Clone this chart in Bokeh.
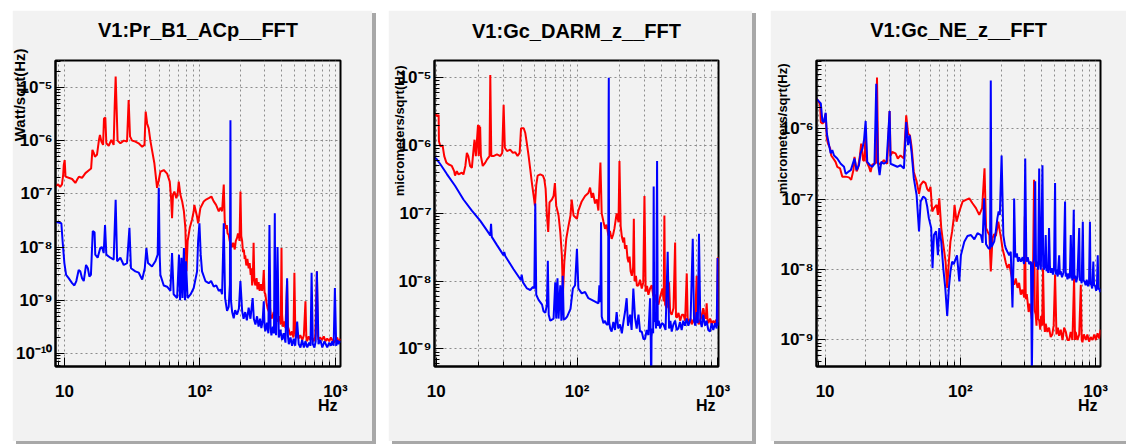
from bokeh.embed import file_html
from bokeh.layouts import column, row
from bokeh.models import (CustomJSTickFormatter, FixedTicker, GlobalInlineStyleSheet, LogAxis,
                          Spacer, Title)
from bokeh.plotting import figure
from bokeh.resources import INLINE

# ---------------------------------------------------------------------------
# Amplitude spectral densities, (frequency [Hz], amplitude) pairs
# ---------------------------------------------------------------------------
PR_RED = [
    (8.6, 1.4e-7), (9.0, 1.5e-7), (9.3, 1.35e-7), (9.6, 1.5e-7), (9.8, 2.3e-7), (9.9, 3.5e-7),
    (10.05, 4.3e-7), (10.2, 2.1e-7), (10.75, 2.0e-7), (11.4, 1.9e-7), (12.05, 1.6e-7), (12.5, 1.9e-7),
    (12.8, 2.1e-7), (13.5, 2.0e-7), (14.3, 2.45e-7), (15.1, 2.75e-7), (15.75, 3.0e-7), (16.1, 6.7e-7),
    (16.5, 5.8e-7), (16.8, 5.0e-7), (17.4, 5.4e-7), (18.0, 1.03e-6), (18.3, 1.28e-6), (18.75, 9.6e-7),
    (19.3, 8.3e-7), (19.6, 2.6e-6), (20.05, 2.7e-6), (20.4, 8.9e-7), (21.25, 8.0e-7), (22.2, 1.03e-6),
    (23.1, 8.3e-7), (23.5, 4.3e-6), (23.9, 1.6e-5), (24.3, 4.0e-6), (24.7, 1.0e-6), (25.9, 8.9e-7),
    (27.4, 1.0e-6), (29.0, 9.6e-7), (29.8, 5.8e-6), (30.5, 1.2e-6), (31.6, 1.0e-6), (33.4, 9.6e-7),
    (35.3, 8.9e-7), (37.5, 7.7e-7), (39.0, 8.3e-7), (39.8, 3.5e-6), (40.8, 2.1e-6), (41.9, 1.7e-6),
    (43.1, 1.0e-6), (44.3, 6.7e-7), (46.1, 3.8e-7), (48.3, 1.3e-7), (49.7, 1.8e-7), (51.1, 2.6e-7),
    (54.1, 2.8e-7), (57.3, 2.4e-7), (59.9, 1.7e-7), (61.3, 8.3e-8), (62.3, 3.5e-8), (63.3, 9.6e-8),
    (64.8, 1.1e-7), (67.0, 8.3e-8), (68.5, 1.0e-7), (69.8, 1.7e-7), (71.8, 9.6e-8), (74.0, 7.2e-8),
    (76.2, 4.7e-8), (78.1, 2.3e-8), (79.6, 3.5e-9), (81.2, 1.3e-8), (84.2, 2.3e-8), (87.5, 3.3e-8),
    (90.0, 4.7e-8), (91.0, 6.2e-8), (95.3, 3.7e-8), (97.0, 2.8e-8), (100.8, 5.4e-8), (106.7, 7.2e-8),
    (111, 7.8e-8), (116.2, 8.3e-8), (121.6, 8.9e-8), (126.5, 7.2e-8), (131.6, 6.2e-8), (137.8, 4.7e-8),
    (142, 5.5e-8), (145.8, 4.7e-8), (150, 1.5e-7), (152.5, 3.0e-8), (155, 2.2e-8), (158, 2.6e-8),
    (160, 1.8e-8), (163, 1.7e-8), (166, 1.3e-8), (169, 1.1e-8), (172.8, 1.0e-8), (176, 1.2e-8),
    (180.8, 9e-9), (184, 1.3e-8), (188.1, 1.5e-8), (191, 1.8e-8), (193.7, 1.7e-8), (196, 1.3e-8),
    (199.2, 1.1e-7), (202, 1.6e-8), (205, 1.3e-8), (208, 8e-9), (211, 9e-9), (214, 6e-9),
    (216, 7e-9), (220, 4.5e-9), (224, 6e-9), (229, 4e-9), (233, 5e-9), (237, 3e-9), (240, 4e-9),
    (243, 1.9e-9), (246, 2.8e-9), (249, 1.2e-8), (252, 2.5e-9), (256, 1.9e-9), (262, 2.6e-9),
    (266, 1.6e-9), (271, 2.2e-9), (276, 1.5e-9), (282, 2.0e-9), (288, 1.5e-9), (292, 2.0e-9),
    (296, 3.7e-9), (300, 1.4e-9), (304, 1.3e-9), (310, 9e-10), (316, 7e-10), (322, 6.2e-10),
    (328, 8e-10), (334, 4.8e-10), (341, 4.6e-10), (350, 6e-10), (360, 4.2e-10), (372, 4.0e-10),
    (385, 5e-10), (395, 3.5e-10), (400, 9.6e-9), (404, 5.4e-10), (410, 3.2e-10), (420, 4e-10),
    (428, 3e-10), (440, 2.3e-9), (446, 3.2e-10), (453, 2.8e-10), (465, 2.2e-10), (478, 2.6e-10),
    (490, 2.0e-10), (498, 3.3e-9), (506, 2.4e-10), (516, 2.0e-10), (525, 2.5e-10), (535, 1.9e-10),
    (550, 2.2e-10), (570, 1.8e-10), (585, 2.2e-10), (601, 9.6e-10), (610, 2.0e-10), (618, 1.7e-10),
    (635, 2.1e-10), (651, 1.8e-10), (670, 2.0e-10), (690, 1.7e-10), (710, 2.1e-10), (730, 3.5e-9),
    (740, 2.4e-10), (750, 1.8e-10), (770, 2.0e-10), (797, 1.8e-10), (820, 2.1e-10), (845, 1.7e-10),
    (870, 1.9e-10), (900, 1.7e-10), (925, 2.0e-10), (948, 1.8e-10), (975, 1.6e-10), (1003, 1.8e-10),
    (1030, 2.0e-10), (1050, 1.7e-10), (1076, 1.8e-10), (1090, 1.9e-10),
]

PR_BLUE = [
    (8.6, 3.0e-8), (9.5, 2.8e-8), (9.7, 1.3e-8), (10.0, 5.0e-9), (10.3, 3.0e-9), (10.75, 2.6e-9),
    (11.4, 2.1e-9), (11.85, 1.9e-9), (12.25, 2.3e-9), (12.75, 3.7e-9), (13.1, 3.5e-9), (13.5, 2.6e-9),
    (13.9, 2.3e-9), (14.45, 4.6e-9), (14.9, 4.0e-9), (15.3, 2.8e-9), (15.7, 3.0e-9), (16.2, 2.0e-8),
    (16.7, 1.9e-8), (16.9, 7.2e-9), (17.6, 6.3e-9), (18.4, 9.6e-9), (18.95, 1.0e-8), (19.5, 7.7e-9),
    (19.95, 2.6e-8), (20.4, 7.2e-9), (21.85, 6.3e-9), (23.1, 5.8e-9), (23.9, 7.7e-8), (24.5, 5.4e-9),
    (25.9, 6.3e-9), (27.4, 4.6e-9), (29.0, 5.0e-9), (30.2, 2.3e-8), (31.0, 4.0e-9), (33.4, 3.5e-9),
    (35.4, 3.3e-9), (37.5, 2.45e-9), (39.2, 4.0e-9), (40.3, 9.6e-9), (41.4, 5.0e-9), (44.3, 4.3e-9),
    (46.9, 5.4e-9), (48.8, 7.2e-9), (49.7, 1.3e-7), (50.5, 7.0e-9), (51.1, 3.0e-9), (54.1, 1.9e-9),
    (57.3, 1.8e-9), (60.6, 1.5e-9), (62.3, 7.7e-9), (64.0, 1.3e-9), (67.9, 1.1e-9), (70.1, 7.2e-9),
    (71.4, 1.0e-9), (73.1, 6.3e-9), (74.4, 1.1e-9), (76.2, 9.6e-9), (77.6, 1.0e-9), (78.9, 5.4e-9),
    (81.1, 1.1e-9), (85.5, 1.3e-9), (90.0, 1.7e-9), (95.3, 3.5e-9), (97.0, 1.3e-8), (99.2, 2.8e-8),
    (101.4, 7.2e-9), (103.7, 3.5e-9), (109.8, 2.3e-9), (116.2, 2.1e-9), (121, 2.3e-9), (126.5, 1.8e-9),
    (132, 1.9e-9), (137.8, 1.5e-9), (142, 1.6e-9), (145.8, 1.3e-9), (150, 2.8e-8), (153.4, 1.1e-9),
    (158.6, 6.3e-10), (163, 7.5e-10), (166.5, 2.0e-9), (168, 2.4e-6), (169.5, 1.0e-9), (173, 6e-10),
    (177.6, 4.6e-10), (182, 6.5e-10), (188, 5.4e-10), (194, 7e-10), (199, 2.3e-9), (205, 6.3e-10),
    (210, 4.5e-10), (216, 6e-10), (222, 4.2e-10), (229, 7.3e-10), (236, 4.5e-10), (245, 1.1e-9),
    (250, 4.5e-10), (257, 3.5e-10), (264, 5e-10), (271, 3.2e-10), (278, 4.5e-10), (284, 3e-10),
    (290, 4e-10), (296, 9.6e-10), (300, 3.2e-10), (304, 2.6e-10), (312, 3.8e-10), (320, 2.4e-10),
    (326, 2.6e-8), (332, 3e-10), (337, 2.2e-10), (345, 3.2e-10), (352, 2.4e-10), (357, 4.3e-8),
    (361, 3e-10), (365, 2.2e-10), (374, 1.0e-8), (382, 2.0e-10), (392, 2.8e-10), (404, 1.8e-10),
    (415, 2.4e-10), (428, 1.6e-10), (440, 2.6e-9), (446, 2.2e-10), (453, 1.5e-10), (466, 2.0e-10),
    (479, 1.4e-10), (492, 1.9e-10), (505, 1.4e-10), (522, 4.0e-10), (536, 1.5e-10), (552, 1.3e-10),
    (568, 1.8e-10), (585, 1.3e-10), (601, 1.7e-10), (620, 1.3e-10), (640, 1.6e-10), (655, 1.4e-10),
    (667, 3.3e-9), (681, 1.5e-10), (700, 1.3e-10), (715, 1.7e-10), (730, 3.5e-9), (750, 1.5e-10),
    (775, 1.8e-10), (800, 1.3e-10), (830, 1.7e-10), (870, 1.3e-10), (900, 1.6e-10), (925, 1.4e-10),
    (948, 1.7e-10), (970, 1.4e-10), (991, 1.7e-9), (1013, 1.4e-10), (1035, 1.8e-10), (1055, 1.5e-10),
    (1076, 1.7e-10), (1090, 1.6e-10),
]

DARM_RED = [
    (9.7, 2.8e-6), (10.0, 2.85e-6), (10.2, 2.7e-6), (10.4, 2.85e-6), (10.45, 1.16e-6), (10.7, 9.8e-7),
    (11.1, 1.0e-6), (11.4, 7.0e-7), (11.8, 5.6e-7), (12.2, 5.3e-7), (12.9, 5.0e-7), (13.4, 4.2e-7),
    (13.6, 3.6e-7), (14.0, 4.2e-7), (14.4, 3.75e-7), (15.2, 4.0e-7), (15.6, 3.75e-7), (16.1, 5.0e-7),
    (16.5, 7.8e-7), (16.9, 7.0e-7), (17.4, 5.0e-7), (17.9, 4.7e-7), (18.4, 8.7e-7), (18.7, 1.22e-6),
    (19.1, 7.0e-7), (19.4, 1.1e-6), (19.8, 2.03e-6), (20.0, 7.0e-7), (20.2, 2.0e-6), (20.4, 7.5e-7),
    (20.5, 1.9e-6), (20.75, 7.0e-7), (21.4, 5.0e-7), (22.3, 5.6e-7), (22.9, 6.2e-7), (23.9, 7.0e-7),
    (24.2, 1.1e-5), (24.6, 7.0e-7), (25.5, 7.0e-7), (27.0, 7.4e-7), (28.5, 7.0e-7), (29.4, 7.8e-7),
    (30.1, 4.0e-6), (30.7, 9.3e-7), (31.8, 8.3e-7), (33.5, 8.7e-7), (35.0, 7.8e-7), (36.4, 8.0e-7),
    (37.8, 7.0e-7), (39.1, 7.8e-7), (40.0, 1.8e-6), (41.8, 1.8e-6), (42.9, 1.53e-6), (44.1, 1.04e-6),
    (45.3, 7.0e-7), (46.5, 4.5e-7), (47.8, 2.8e-7), (49.2, 1.8e-7), (50.2, 1.3e-7), (51.3, 2.6e-7),
    (52.5, 3.6e-7), (54.8, 3.75e-7), (57.2, 3.6e-7), (58.5, 3.2e-7), (59.8, 2.3e-7), (61.1, 9.3e-8),
    (62.4, 5.3e-8), (63.7, 1.45e-7), (66.3, 1.6e-7), (68.1, 1.8e-7), (69.6, 2.8e-7), (71.1, 1.3e-7),
    (73.9, 9.3e-8), (76.0, 5.3e-8), (78.0, 2.4e-8), (79.4, 6.6e-9), (81.2, 1.9e-8), (83.8, 4.2e-8),
    (87.0, 6.6e-8), (89.8, 9.3e-8), (91.6, 1.6e-7), (94.4, 9.3e-8), (99.8, 8.3e-8), (102.2, 1.1e-7),
    (107.9, 1.5e-7), (114, 1.8e-7), (120.3, 2.0e-7), (123.7, 2.4e-7), (127.1, 1.7e-7), (130, 2.0e-7),
    (134.2, 1.4e-7), (138, 1.6e-7), (141.7, 1.1e-7), (146.5, 5.6e-7), (149.6, 1.0e-7), (154, 7.5e-8),
    (158, 5.9e-8), (162, 6.8e-8), (167, 4.7e-8), (171, 5.5e-8), (176, 4.2e-8), (180, 4.8e-8),
    (184, 5.9e-8), (191, 1.0e-7), (197, 7.4e-8), (200, 5.9e-7), (204, 6.5e-8), (208, 4.5e-8),
    (213, 3.7e-8), (216, 4.4e-8), (219, 3.0e-8), (224, 3.4e-8), (228, 2.2e-8), (232, 1.9e-8),
    (236, 2.3e-8), (240, 1.4e-8), (245, 1.2e-8), (250, 1.6e-8), (253, 8.3e-8), (256, 1.0e-8),
    (262, 1.2e-8), (266, 8.5e-9), (273, 8.7e-9), (280, 1.05e-8), (288, 7.8e-9), (295, 9.5e-9),
    (301, 1.8e-7), (307, 7.0e-9), (314, 8.5e-9), (321, 6.3e-9), (330, 7.8e-9), (339, 8.7e-9),
    (348, 6.0e-9), (358, 6.3e-9), (368, 4.8e-9), (378, 4.5e-9), (390, 6.0e-9), (404, 7.8e-9),
    (412, 5e-9), (417, 9.3e-8), (422, 4.5e-9), (433, 4.0e-9), (442, 5.0e-9), (450, 9.6e-9),
    (458, 3.5e-9), (470, 3.2e-9), (484, 4.0e-9), (497, 3.7e-8), (504, 3.0e-9), (511, 2.9e-9),
    (525, 3.4e-9), (540, 2.6e-9), (555, 3.2e-9), (570, 3.2e-9), (585, 2.6e-9), (601, 1.3e-8),
    (610, 2.8e-9), (625, 2.4e-9), (640, 2.8e-9), (652, 2.3e-9), (670, 2.7e-9), (688, 2.4e-9),
    (707, 1.2e-8), (718, 2.8e-9), (730, 2.3e-9), (746, 2.6e-9), (765, 3.0e-9), (787, 4.0e-9),
    (805, 3.0e-9), (820, 2.8e-9), (832, 4.7e-9), (845, 2.6e-9), (856, 2.4e-9), (880, 2.8e-9),
    (904, 2.3e-9), (930, 2.6e-9), (954, 2.4e-9), (975, 2.7e-9), (990, 2.4e-9), (996, 2.2e-8),
    (1005, 2.2e-8), (1010, 2.5e-9),
]

DARM_BLUE = [
    (9.7, 6.7e-7), (10.0, 6.4e-7), (10.7, 5.3e-7), (11.9, 3.8e-7), (13.6, 2.55e-7), (15.6, 1.6e-7),
    (17.9, 1.1e-7), (20.5, 7.8e-8), (22.9, 5.6e-8), (24.2, 4.7e-8), (24.5, 7.0e-8), (24.8, 4.5e-8),
    (27.0, 3.4e-8), (30.1, 2.4e-8), (30.4, 2.7e-8), (30.9, 2.35e-8), (35.4, 1.5e-8), (40.0, 1.03e-8),
    (40.4, 1.25e-8), (41.3, 9.6e-9), (44.1, 7.8e-9), (46.5, 7.4e-9), (48.6, 8.2e-9), (49.7, 7.8e-9),
    (50.5, 1.4e-7), (51.3, 6.3e-9), (53.3, 5.3e-9), (56.4, 4.5e-9), (57.8, 3.6e-9), (59.5, 3.4e-9),
    (61.1, 4.5e-9), (62.0, 2.0e-8), (62.9, 3.2e-9), (64.5, 2.6e-9), (66.3, 2.7e-9), (68.1, 2.8e-9),
    (70.0, 9.6e-9), (71.1, 2.8e-9), (72.6, 1.1e-8), (73.9, 2.8e-9), (76.0, 8.7e-9), (77.4, 2.6e-9),
    (79.1, 1.2e-8), (80.4, 2.7e-9), (82.7, 2.8e-9), (85.0, 3.0e-9), (89.8, 3.9e-9), (93.4, 7.8e-9),
    (96.8, 8.7e-9), (99.8, 3.0e-8), (102.2, 7.8e-9), (107.9, 6.6e-9), (114, 6.9e-9), (120.3, 5.6e-9),
    (127.1, 5.3e-9), (134.2, 5.0e-9), (141.7, 4.7e-9), (144, 8.7e-9), (146.5, 4.9e-9), (148, 7.4e-8),
    (149.6, 3.0e-9), (154, 2.4e-9), (158, 2.6e-9), (162, 2.3e-9), (166, 2.3e-9), (167.5, 3.0e-6),
    (168, 1.0e-5), (169, 2.5e-9), (172, 2.0e-9), (176, 1.8e-9), (181, 2.5e-9), (186, 1.9e-9),
    (191, 3.5e-9), (196, 2.0e-9), (202, 2.3e-9), (208, 1.7e-9), (214, 2.6e-9), (219, 3.5e-9),
    (225, 5.6e-9), (230, 2.2e-9), (238, 3.2e-9), (244, 1.9e-9), (251, 7.8e-9), (258, 2.9e-9),
    (265, 2.0e-9), (273, 3.2e-9), (280, 1.8e-9), (288, 1.8e-9), (296, 1.4e-9), (304, 1.4e-9),
    (312, 1.9e-9), (321, 1.6e-9), (330, 5.6e-9), (334, 1.2e-9), (336, 2.0e-10), (338, 1.5e-9),
    (342, 2.0e-9), (347, 1.7e-9), (350, 2.5e-7), (353, 2.5e-9), (358, 3.2e-9), (364, 2.0e-9),
    (370, 5.9e-7), (374, 2.2e-9), (380, 2.6e-9), (389, 2.0e-9), (400, 2.4e-9), (411, 2.3e-9),
    (425, 1.9e-9), (440, 2.7e-8), (450, 2.0e-9), (460, 2.6e-9), (470, 1.8e-9), (483, 2.3e-9),
    (497, 2.6e-9), (510, 1.9e-9), (524, 2.0e-9), (538, 2.5e-9), (553, 1.9e-9), (568, 2.6e-9),
    (584, 2.2e-9), (600, 2.8e-9), (617, 2.2e-9), (640, 2.8e-9), (663, 4.2e-8), (677, 2.6e-9),
    (692, 2.2e-9), (707, 3.5e-9), (720, 2.4e-9), (734, 5.0e-8), (750, 2.6e-9), (768, 2.1e-9),
    (787, 3.2e-9), (810, 2.2e-9), (832, 2.6e-9), (855, 1.9e-9), (879, 1.8e-9), (903, 2.4e-9),
    (927, 1.9e-9), (955, 2.4e-9), (980, 2.0e-9), (996, 2.2e-8), (1002, 2.3e-9), (1010, 2.2e-9),
]

NE_RED = [
    (8.6, 2.7e-6), (8.9, 2.5e-6), (9.2, 2.2e-6), (9.3, 1.25e-6), (9.55, 1.2e-6), (9.8, 1.25e-6),
    (10.1, 1.65e-6), (10.3, 7.3e-7), (10.5, 6.2e-7), (10.9, 5.3e-7), (11.1, 4.2e-7), (11.5, 3.8e-7),
    (11.95, 3.4e-7), (12.3, 2.9e-7), (12.9, 2.75e-7), (13.4, 2.1e-7), (14.2, 2.1e-7), (15.0, 2.05e-7),
    (15.6, 1.9e-7), (16.2, 2.6e-7), (16.5, 4.0e-7), (17.1, 2.5e-7), (17.5, 2.75e-7), (18.1, 4.2e-7),
    (18.5, 6.2e-7), (19.1, 3.6e-7), (19.5, 3.5e-7), (19.95, 9.1e-7), (20.3, 3.4e-7), (21.1, 2.9e-7),
    (21.7, 2.45e-7), (22.3, 3.1e-7), (23.2, 3.2e-7), (23.8, 3.3e-7), (24.2, 5.4e-6), (24.7, 3.3e-7),
    (25.7, 3.1e-7), (27.2, 3.6e-7), (28.8, 3.2e-7), (30.0, 1.8e-6), (30.5, 4.2e-7), (31.4, 4.7e-7),
    (33.2, 4.5e-7), (34.5, 3.8e-7), (36.1, 4.2e-7), (38.3, 3.8e-7), (39.8, 1.56e-6), (41.1, 8.6e-7),
    (42.4, 8.1e-7), (43.6, 5.6e-7), (45.3, 2.45e-7), (47.5, 1.8e-7), (49.5, 1.2e-7), (50.9, 1.6e-7),
    (53.2, 1.8e-7), (55.3, 1.7e-7), (56.9, 1.4e-7), (58.5, 1.3e-7), (60.2, 1.5e-7), (62.0, 6.7e-8),
    (63.8, 7.5e-8), (66.8, 8.3e-8), (68.3, 6.0e-8), (69.9, 1.03e-7), (72.3, 3.9e-8), (74.8, 2.3e-8),
    (77.8, 1.3e-8), (80.0, 5.5e-9), (82.3, 1.3e-8), (84.5, 2.5e-8), (87.0, 3.5e-8), (89.4, 5.4e-8),
    (90.6, 8.3e-8), (93.8, 4.8e-8), (98.3, 6.7e-8), (104, 9.3e-8), (110, 9.8e-8), (116.5, 1.03e-7),
    (123, 8.8e-8), (130.5, 7.5e-8), (138, 6.0e-8), (145, 7.5e-8), (151, 2.75e-7), (155, 3.9e-8),
    (160, 3.4e-8), (164, 3.1e-8), (168, 9.4e-9), (173, 2.8e-8), (178, 3.2e-8), (183, 3.0e-8),
    (191, 4.8e-8), (196, 3.5e-8), (200, 2.8e-8), (205, 2.0e-8), (211, 1.6e-8), (217, 1.25e-8),
    (223, 1.05e-8), (230, 1.2e-8), (236, 9.4e-9), (243, 7.0e-9), (250, 6.1e-9), (257, 7.5e-9),
    (265, 5.5e-9), (272, 6.5e-9), (280, 4.4e-9), (288, 5.2e-9), (297, 4.0e-9), (300, 5.7e-8),
    (305, 3.8e-9), (310, 4.5e-9), (314, 3.6e-9), (320, 2.5e-9), (326, 3.3e-9), (332, 2.6e-9),
    (338, 2.0e-9), (345, 1.05e-8), (351, 1.9e-7), (355, 2.6e-9), (361, 2.3e-9), (366, 1.6e-9),
    (372, 1.05e-8), (377, 2.0e-9), (383, 1.9e-9), (390, 1.4e-9), (396, 2.2e-9), (403, 1.6e-9),
    (409, 1.05e-8), (416, 1.8e-9), (422, 1.3e-9), (428, 1.7e-9), (440, 1.3e-9), (453, 1.5e-9),
    (466, 1.1e-9), (479, 1.2e-9), (490, 1.6e-9), (502, 8.5e-9), (514, 1.2e-9), (526, 1.5e-9),
    (538, 1.15e-9), (553, 1.4e-9), (570, 1.0e-9), (586, 1.5e-9), (603, 1.3e-9), (620, 1.0e-9),
    (638, 1.0e-9), (655, 1.3e-9), (675, 1.0e-9), (694, 7.7e-9), (705, 1.0e-9), (713, 1.3e-9),
    (735, 1.0e-9), (757, 1.2e-9), (778, 6.1e-9), (790, 1.0e-9), (800, 9.3e-10), (820, 1.2e-9),
    (847, 1.0e-9), (870, 1.2e-9), (896, 9.5e-10), (920, 1.1e-9), (950, 1.0e-9), (978, 1.2e-9),
    (1005, 1.0e-9), (1035, 1.25e-9), (1065, 1.05e-9), (1090, 1.4e-9),
]

NE_BLUE = [
    (8.6, 2.7e-6), (9.3, 2.3e-6), (9.55, 1.3e-6), (9.8, 1.25e-6), (10.1, 1.7e-6), (10.3, 8.6e-7),
    (10.7, 5.9e-7), (11.0, 4.5e-7), (11.3, 5.0e-7), (11.65, 4.2e-7), (12.3, 3.8e-7), (13.05, 3.2e-7),
    (13.8, 2.9e-7), (14.2, 2.3e-7), (14.8, 2.45e-7), (15.5, 2.6e-7), (16.2, 3.4e-7), (16.5, 3.8e-7),
    (17.1, 2.6e-7), (17.8, 3.05e-7), (18.3, 4.5e-7), (18.9, 5.3e-7), (19.4, 6.9e-7), (19.95, 1.3e-6),
    (20.5, 3.4e-7), (21.5, 3.05e-7), (22.3, 2.9e-7), (23.2, 3.2e-7), (23.9, 4.4e-6), (24.6, 3.3e-7),
    (25.3, 2.2e-7), (26.0, 3.4e-7), (27.2, 3.2e-7), (28.5, 3.4e-7), (30.0, 1.8e-6), (30.5, 3.2e-7),
    (32.3, 3.05e-7), (34.2, 2.9e-7), (36.1, 3.05e-7), (38.3, 2.75e-7), (39.8, 1.25e-6), (41.1, 5.9e-7),
    (42.2, 8.1e-7), (43.6, 4.7e-7), (45.3, 2.0e-7), (47.5, 1.15e-7), (49.5, 3.5e-8), (50.9, 9.3e-8),
    (53.2, 1.1e-7), (55.3, 1.03e-7), (56.9, 7.9e-8), (58.5, 5.4e-8), (60.9, 3.9e-8), (62.3, 1.05e-8),
    (63.8, 3.1e-8), (66.2, 3.5e-8), (68.3, 1.6e-8), (69.9, 3.9e-8), (72.3, 2.5e-8), (74.8, 1.05e-8),
    (77.4, 5.5e-9), (80.0, 2.2e-9), (82.3, 5.5e-9), (84.5, 9.4e-9), (87.0, 1.3e-8), (89.4, 1.2e-8),
    (94.5, 1.6e-8), (98.3, 6.8e-9), (101, 1.6e-8), (107, 2.5e-8), (113, 3.0e-8), (120, 3.1e-8),
    (127, 2.7e-8), (134, 3.3e-8), (142, 3.1e-8), (146, 2.4e-8), (150, 1.03e-7), (155, 2.3e-8),
    (162, 2.0e-8), (166, 2.0e-8), (168, 4.9e-6), (170, 2.1e-8), (178, 2.5e-8), (183, 3.5e-8),
    (188, 5.4e-8), (192, 6.7e-8), (196, 6.0e-8), (202, 4.2e-7), (208, 3.1e-8), (213, 2.3e-8),
    (217, 2.0e-8), (223, 1.8e-8), (230, 1.6e-8), (236, 1.8e-8), (243, 2.9e-9), (248, 1.6e-8),
    (250, 1.03e-7), (255, 1.5e-8), (262, 1.7e-8), (267, 1.3e-8), (272, 1.5e-8), (280, 1.3e-8),
    (289, 1.5e-8), (296, 1.2e-8), (302, 3.8e-7), (308, 1.3e-8), (315, 1.5e-8), (323, 1.2e-8),
    (333, 1.3e-8), (338, 3.0e-10), (345, 1.2e-8), (351, 1.4e-8), (358, 1.8e-7), (363, 1.1e-8),
    (369, 1.3e-8), (376, 1.0e-8), (383, 2.75e-7), (389, 1.2e-8), (394, 1.0e-8), (405, 3.05e-7),
    (410, 1.1e-8), (416, 1.0e-8), (422, 1.2e-8), (428, 3.1e-8), (434, 9.5e-9), (440, 1.1e-8),
    (447, 9.0e-9), (453, 3.9e-8), (460, 1.1e-8), (466, 9.0e-9), (475, 1.05e-8), (484, 8.5e-9),
    (493, 1.05e-8), (502, 1.7e-7), (508, 8.5e-9), (514, 1.0e-8), (525, 8.0e-9), (538, 1.6e-8),
    (545, 8.5e-9), (552, 9.5e-9), (565, 7.8e-9), (580, 9.2e-9), (595, 9.3e-8), (602, 8.0e-9),
    (609, 9.0e-9), (620, 7.3e-9), (635, 8.8e-9), (645, 7.5e-9), (656, 3.1e-8), (665, 8.5e-9),
    (675, 7.0e-9), (690, 7.1e-8), (698, 7.5e-9), (707, 8.2e-9), (720, 6.6e-9), (735, 8.0e-9),
    (757, 3.9e-8), (765, 7.0e-9), (778, 7.3e-9), (790, 6.4e-9), (805, 4.8e-8), (815, 7.0e-9),
    (828, 6.8e-9), (845, 6.0e-9), (860, 7.2e-9), (880, 5.8e-9), (895, 6.8e-9), (909, 4.8e-8),
    (918, 6.2e-9), (930, 6.1e-9), (945, 5.4e-9), (963, 1.3e-8), (975, 6.0e-9), (996, 5.8e-9),
    (1010, 5.0e-9), (1025, 6.2e-9), (1038, 1.6e-8), (1050, 5.2e-9), (1065, 5.5e-9), (1080, 4.8e-9),
    (1090, 5.3e-9),
]

TITLES = ["V1:Pr_B1_ACp__FFT", "V1:Gc_DARM_z__FFT", "V1:Gc_NE_z__FFT"]
Y_TITLES = ["Watt/sqrt(Hz)", "micrometers/sqrt(Hz)", "micrometers/sqrt(Hz)"]
X_TITLE = "Hz"
X_MAJOR_TICKS = [10, 100, 1000]

# ---------------------------------------------------------------------------
# Styling
# ---------------------------------------------------------------------------
PAD = "#f2f2f2"
FONT = "Liberation Sans"
GRID = "#8c8c8c"

POWER_OF_TEN = """
const e = Math.round(Math.log10(tick));
if (e === 1) { return "10"; }
const sup = {"-": "\u207b", "0": "\u2070", "1": "\u00b9", "2": "\u00b2", "3": "\u00b3",
             "4": "\u2074", "5": "\u2075", "6": "\u2076", "7": "\u2077", "8": "\u2078", "9": "\u2079"};
return "10" + String(e).split("").map((c) => sup[c]).join("");
"""


def log_ticks(lo, hi):
    majors = [10.0 ** k for k in range(lo, hi + 1)]
    minors = [m * 10.0 ** k for k in range(lo - 1, hi + 1) for m in range(2, 10)]
    return majors, minors


def style_axis(ax, standoff):
    ax.axis_line_color = "black"
    ax.axis_line_width = 2
    ax.major_tick_line_color = "black"
    ax.minor_tick_line_color = "black"
    ax.major_tick_in = 9
    ax.major_tick_out = 0
    ax.minor_tick_in = 5
    ax.minor_tick_out = 0
    ax.major_label_text_font = FONT
    ax.major_label_text_font_style = "bold"
    ax.major_label_text_font_size = "17px"
    ax.major_label_text_color = "black"
    ax.major_label_standoff = standoff
    ax.formatter = CustomJSTickFormatter(code=POWER_OF_TEN)


def heading_axis(text, standoff):
    # tickless axis above the frame that only carries the panel heading
    return LogAxis(
        ticker=FixedTicker(ticks=[]), axis_label=text,
        axis_line_color=None, major_tick_line_color=None, minor_tick_line_color=None,
        major_tick_out=0, minor_tick_out=0, major_label_standoff=0,
        axis_label_standoff=standoff, axis_label_text_font=FONT,
        axis_label_text_font_size="20px", axis_label_text_font_style="bold",
        axis_label_text_color="black",
    )


def side_title(text, size, standoff, offset):
    return Title(
        text=text, align="right", standoff=standoff, offset=offset,
        text_font=FONT, text_font_size=size, text_font_style="bold", text_color="black",
    )


def spectrum_panel(cfg):
    x0, x1 = cfg["x_range"]
    y0, y1 = cfg["y_range"]
    left, right, top, bottom = cfg["borders"]
    width, height = cfg["size"]
    p = figure(
        width=width, height=height,
        x_axis_type="log", y_axis_type="log",
        x_range=(x0, x1), y_range=(y0, y1),
        output_backend="svg", toolbar_location=None,
        min_border_left=left, min_border_right=right,
        min_border_top=top, min_border_bottom=bottom,
        background_fill_color=PAD, border_fill_color=PAD,
        outline_line_color="black", outline_line_width=2,
        margin=0,
    )
    p.styles = {"box-shadow": "4px 3px 0px 0px #a8a8a8", "flex-shrink": "0"}

    style_axis(p.xaxis[0], 15)
    style_axis(p.yaxis[0], 3)
    xminor = [9] + [m * 10 for m in range(2, 10)] + [m * 100 for m in range(2, 10)]
    p.xaxis.ticker = FixedTicker(ticks=X_MAJOR_TICKS, minor_ticks=xminor)
    ymaj, ymin = log_ticks(*cfg["decades"])
    p.yaxis.ticker = FixedTicker(ticks=ymaj, minor_ticks=ymin)

    for g in (p.xgrid, p.ygrid):
        g.grid_line_color = GRID
        g.grid_line_dash = "2 3"
        g.grid_line_width = 1
    p.xgrid.minor_grid_line_color = GRID
    p.xgrid.minor_grid_line_dash = "2 3"

    red, blue = cfg["red"], cfg["blue"]
    p.line([f for f, _ in red], [a for _, a in red], line_color="#ff0000", line_width=2)
    p.line([f for f, _ in blue], [a for _, a in blue], line_color="#0000ff", line_width=2)

    p.add_layout(heading_axis(cfg["title"], cfg["title_standoff"]), "above")
    p.add_layout(side_title(cfg["ytitle"], cfg["ytitle_size"], cfg["ytitle_standoff"],
                            cfg["ytitle_offset"]), "left")
    p.add_layout(side_title(X_TITLE, "16px", cfg["xtitle_standoff"], 3), "below")
    return p


panels = [
    dict(title=TITLES[0], ytitle=Y_TITLES[0], red=PR_RED, blue=PR_BLUE,
         x_range=(8.6, 1090), y_range=(5.7e-11, 3.2e-5), decades=(-10, -5),
         size=(360, 431), borders=(43, 32, 50, 74),
         title_standoff=20, ytitle_size="15px", ytitle_standoff=-30, ytitle_offset=-12,
         xtitle_standoff=-20),
    dict(title=TITLES[1], ytitle=Y_TITLES[1], red=DARM_RED, blue=DARM_BLUE,
         x_range=(9.72, 1010), y_range=(5.5e-10, 1.8e-5), decades=(-9, -5),
         size=(364, 431), borders=(46, 34, 48, 75),
         title_standoff=19, ytitle_size="13px", ytitle_standoff=-22, ytitle_offset=5,
         xtitle_standoff=-20),
    dict(title=TITLES[2], ytitle=Y_TITLES[2], red=NE_RED, blue=NE_BLUE,
         x_range=(8.64, 1088), y_range=(4.2e-10, 9.4e-6), decades=(-9, -6),
         size=(356, 431), borders=(46, 26, 50, 74),
         title_standoff=20, ytitle_size="13px", ytitle_standoff=-24, ytitle_offset=3,
         xtitle_standoff=-20),
]

figs = [spectrum_panel(c) for c in panels]
strip = row(
    Spacer(width=12, height=431, margin=0), figs[0],
    Spacer(width=16, height=431, margin=0), figs[1],
    Spacer(width=18, height=431, margin=0), figs[2],
    spacing=0, margin=0,
)
layout = column(Spacer(width=1126, height=10, margin=0), strip, spacing=0, margin=0)
layout.stylesheets = [GlobalInlineStyleSheet(css="html, body { margin: 0; overflow: hidden; }")]

with open("out.html", "w") as fh:
    fh.write(file_html(layout, INLINE))
